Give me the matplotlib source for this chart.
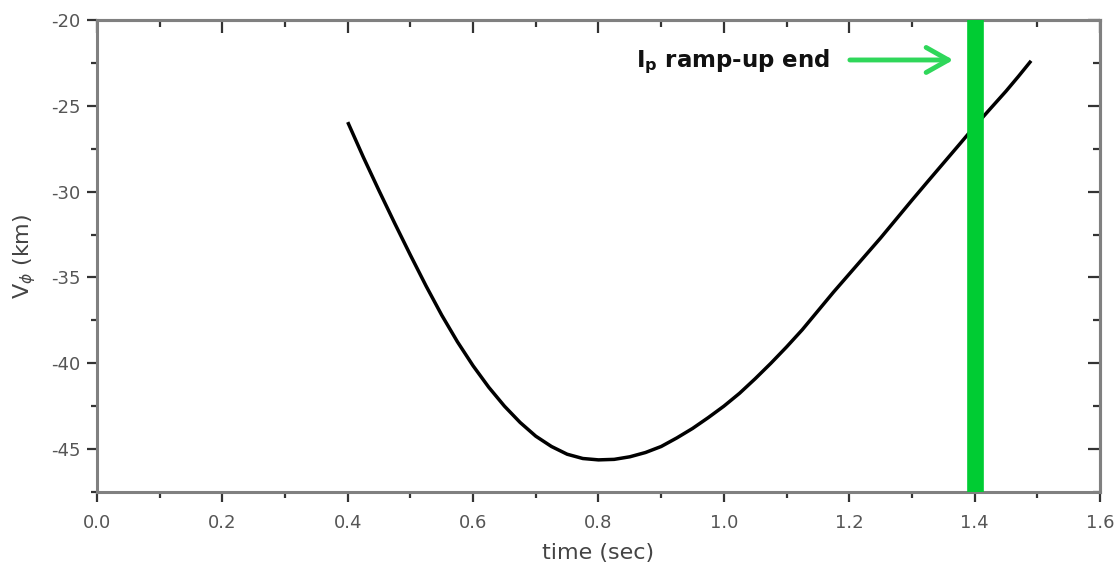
import matplotlib
matplotlib.use("Agg")
import matplotlib.pyplot as plt
from matplotlib.ticker import MultipleLocator, FormatStrFormatter

time_sec = [0.40, 0.425, 0.45, 0.475, 0.50, 0.525, 0.55, 0.575, 0.60, 0.625, 0.65,
            0.675, 0.70, 0.725, 0.75, 0.775, 0.80, 0.825, 0.85, 0.875, 0.90, 0.925,
            0.95, 0.975, 1.00, 1.025, 1.05, 1.075, 1.10, 1.125, 1.15, 1.175, 1.20,
            1.225, 1.25, 1.275, 1.30, 1.325, 1.35, 1.375, 1.40, 1.425, 1.45, 1.47, 1.49]
v_phi = [-25.95, -28.0, -29.95, -31.85, -33.7, -35.5, -37.2, -38.75, -40.15, -41.4, -42.5,
         -43.45, -44.25, -44.85, -45.3, -45.55, -45.63, -45.6, -45.45, -45.2, -44.85, -44.35,
         -43.8, -43.17, -42.5, -41.75, -40.9, -40.0, -39.05, -38.05, -36.95, -35.85, -34.8,
         -33.75, -32.7, -31.6, -30.5, -29.42, -28.35, -27.28, -26.2, -25.17, -24.15, -23.28, -22.38]
ramp_end = 1.40
annot_label = r'I$_\mathregular{p}$ ramp-up end'
x_label = 'time (sec)'
y_label = r'V$_\phi$ (km)'

fig = plt.figure(figsize=(11.17, 5.71), dpi=100)
ax = fig.add_axes([0.0868, 0.1384, 0.8980, 0.8266])

ax.plot(time_sec, v_phi, color='black', lw=2.5, solid_capstyle='butt',
        solid_joinstyle='round', zorder=2)
ax.axvline(ramp_end, color='#00cc33', lw=12, zorder=3)

ax.set_xlim(0.0, 1.6)
ax.set_ylim(-47.5, -20)
ax.xaxis.set_major_locator(MultipleLocator(0.2))
ax.xaxis.set_minor_locator(MultipleLocator(0.1))
ax.yaxis.set_major_locator(MultipleLocator(5))
ax.yaxis.set_minor_locator(MultipleLocator(2.5))
ax.xaxis.set_major_formatter(FormatStrFormatter('%.1f'))
ax.yaxis.set_major_formatter(FormatStrFormatter('%d'))

for s in ax.spines.values():
    s.set_color('#808080')
    s.set_linewidth(2.2)

ax.tick_params(which='both', direction='out', color='#333333', width=1.6,
               labelsize=13, labelcolor='#555555')
ax.tick_params(axis='x', which='both', pad=9)
ax.tick_params(axis='y', which='both', pad=5)
ax.tick_params(which='major', length=7)
ax.tick_params(which='minor', length=4)

# mirrored inward ticks on top and right
sec_x = ax.secondary_xaxis('top')
sec_x.xaxis.set_major_locator(MultipleLocator(0.2))
sec_x.xaxis.set_minor_locator(MultipleLocator(0.1))
sec_x.tick_params(which='both', direction='in', color='#333333', width=1.6, labeltop=False)
sec_x.tick_params(which='major', length=9)
sec_x.tick_params(which='minor', length=5)
sec_x.spines['top'].set_color('#808080')
sec_x.spines['top'].set_linewidth(2.2)
sec_y = ax.secondary_yaxis('right')
sec_y.yaxis.set_major_locator(MultipleLocator(5))
sec_y.yaxis.set_minor_locator(MultipleLocator(2.5))
sec_y.tick_params(which='both', direction='in', color='#333333', width=1.6, labelright=False)
sec_y.tick_params(which='major', length=9)
sec_y.tick_params(which='minor', length=5)
sec_y.spines['right'].set_color('#808080')
sec_y.spines['right'].set_linewidth(2.2)

ax.set_xlabel(x_label, fontsize=16, color='#444444', labelpad=8)
ax.set_ylabel(y_label, fontsize=16, color='#444444', labelpad=9)

ax.text(1.015, -22.45, annot_label, fontsize=16.5, fontweight='bold',
        color='#111111', ha='center', va='center')
ax.annotate('', xy=(1.366, -22.33), xytext=(1.201, -22.33),
            arrowprops=dict(arrowstyle='->,head_length=0.8,head_width=0.45',
                            color='#2fd75a', lw=3.5, mutation_scale=20,
                            shrinkA=0, shrinkB=0))

fig.savefig('out.png', dpi=100)
